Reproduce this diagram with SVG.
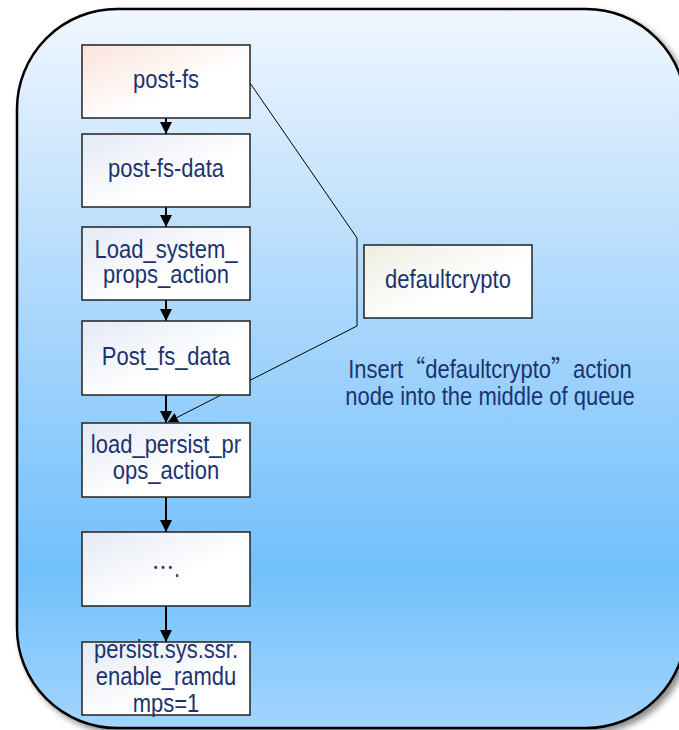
<svg xmlns="http://www.w3.org/2000/svg" width="679" height="730" viewBox="0 0 679 730">
<defs>
<linearGradient id="bg" x1="0" y1="0" x2="0" y2="1">
<stop offset="0" stop-color="#f0f7ff"/>
<stop offset="0.35" stop-color="#b6dcfc"/>
<stop offset="0.78" stop-color="#72c0fc"/>
<stop offset="1" stop-color="#a2d5fd"/>
</linearGradient>
<linearGradient id="boxg" x1="0" y1="0" x2="1" y2="1">
<stop offset="0" stop-color="#e4e9f4"/>
<stop offset="0.6" stop-color="#ffffff"/>
<stop offset="1" stop-color="#ffffff"/>
</linearGradient>
<linearGradient id="boxp" x1="0" y1="0" x2="1" y2="1">
<stop offset="0" stop-color="#fbe3da"/>
<stop offset="0.6" stop-color="#ffffff"/>
<stop offset="1" stop-color="#ffffff"/>
</linearGradient>
<linearGradient id="boxy" x1="0" y1="0" x2="1" y2="1">
<stop offset="0" stop-color="#eceee2"/>
<stop offset="0.6" stop-color="#ffffff"/>
<stop offset="1" stop-color="#ffffff"/>
</linearGradient>
<filter id="sh" x="-5%" y="-5%" width="115%" height="115%">
<feGaussianBlur in="SourceAlpha" stdDeviation="3"/>
<feOffset dx="4" dy="4" result="b"/>
<feComponentTransfer><feFuncA type="linear" slope="0.45"/></feComponentTransfer>
<feMerge><feMergeNode/><feMergeNode in="SourceGraphic"/></feMerge>
</filter>
<marker id="ah" markerUnits="userSpaceOnUse" markerWidth="12" markerHeight="12" refX="12" refY="6" orient="auto">
<path d="M0,0 L12,6 L0,12 z" fill="#000"/>
</marker>
<marker id="ahs" markerUnits="userSpaceOnUse" markerWidth="10" markerHeight="10" refX="10" refY="5" orient="auto">
<path d="M0,0 L10,5 L0,10 z" fill="#000"/>
</marker>
</defs>
<style>
.box{stroke:#222;stroke-width:1.5}
.t{font-family:"Liberation Sans",Arial,sans-serif;font-size:22px;fill:#1b3470;text-anchor:middle}
.cjk{font-family:"Noto Sans CJK SC",sans-serif}
.arr{stroke:#000;stroke-width:2;fill:none;marker-end:url(#ah)}
.con{stroke:#000;stroke-width:1;fill:none;marker-end:url(#ahs)}
</style>
<rect id="frame" x="17" y="9" width="669" height="719" rx="100" ry="100" fill="url(#bg)" stroke="#000" stroke-width="2.5" filter="url(#sh)"/>

<g id="connectors">
<line class="arr" x1="166" y1="118" x2="166" y2="134"/>
<line class="arr" x1="166" y1="207" x2="166" y2="227"/>
<line class="arr" x1="166" y1="300" x2="166" y2="321"/>
<line class="arr" x1="166" y1="395" x2="166" y2="423"/>
<line class="arr" x1="166" y1="497" x2="166" y2="532"/>
<line class="arr" x1="166" y1="606" x2="166" y2="642"/>
<polyline class="con" points="250,83 357,238 357,326 168,422"/>
</g>

<g id="n1"><rect class="box" x="82" y="45" width="168" height="73" fill="url(#boxp)"/>
<text class="t" transform="translate(166,88) scale(1,1.15)">post-fs</text></g>
<g id="n2"><rect class="box" x="82" y="134" width="168" height="73" fill="url(#boxg)"/>
<text class="t" transform="translate(166,177) scale(1,1.15)">post-fs-data</text></g>
<g id="n3"><rect class="box" x="82" y="227" width="168" height="73" fill="url(#boxg)"/>
<text class="t" transform="translate(166,258) scale(1,1.15)">Load_system_</text>
<text class="t" transform="translate(166,283) scale(1,1.15)">props_action</text></g>
<g id="n4"><rect class="box" x="82" y="321" width="168" height="74" fill="url(#boxg)"/>
<text class="t" transform="translate(166,365) scale(1,1.15)">Post_fs_data</text></g>
<g id="n5"><rect class="box" x="82" y="423" width="168" height="74" fill="url(#boxg)"/>
<text class="t" transform="translate(166,453) scale(1,1.15)">load_persist_pr</text>
<text class="t" transform="translate(166,479) scale(1,1.15)">ops_action</text></g>
<g id="n6"><rect class="box" x="82" y="532" width="168" height="74" fill="url(#boxg)"/>
<text class="t" transform="translate(166,577) scale(1,1.15)"><tspan class="cjk">…</tspan>.</text></g>
<g id="n7"><rect class="box" x="82" y="642" width="168" height="73" fill="url(#boxg)"/>
<text class="t" transform="translate(166,658) scale(1,1.15)">persist.sys.ssr.</text>
<text class="t" transform="translate(166,685) scale(1,1.15)">enable_ramdu</text>
<text class="t" transform="translate(166,712) scale(1,1.15)">mps=1</text></g>
<g id="n8"><rect class="box" x="364" y="245" width="168" height="73" fill="url(#boxy)"/>
<text class="t" transform="translate(448,288) scale(1,1.15)">defaultcrypto</text></g>

<g id="note">
<text class="t" transform="translate(490,378) scale(1,1.15)">Insert<tspan class="cjk">“</tspan>defaultcrypto<tspan class="cjk">”</tspan>action</text>
<text class="t" transform="translate(490,405) scale(1,1.15)">node into the middle of queue</text>
</g>
</svg>
